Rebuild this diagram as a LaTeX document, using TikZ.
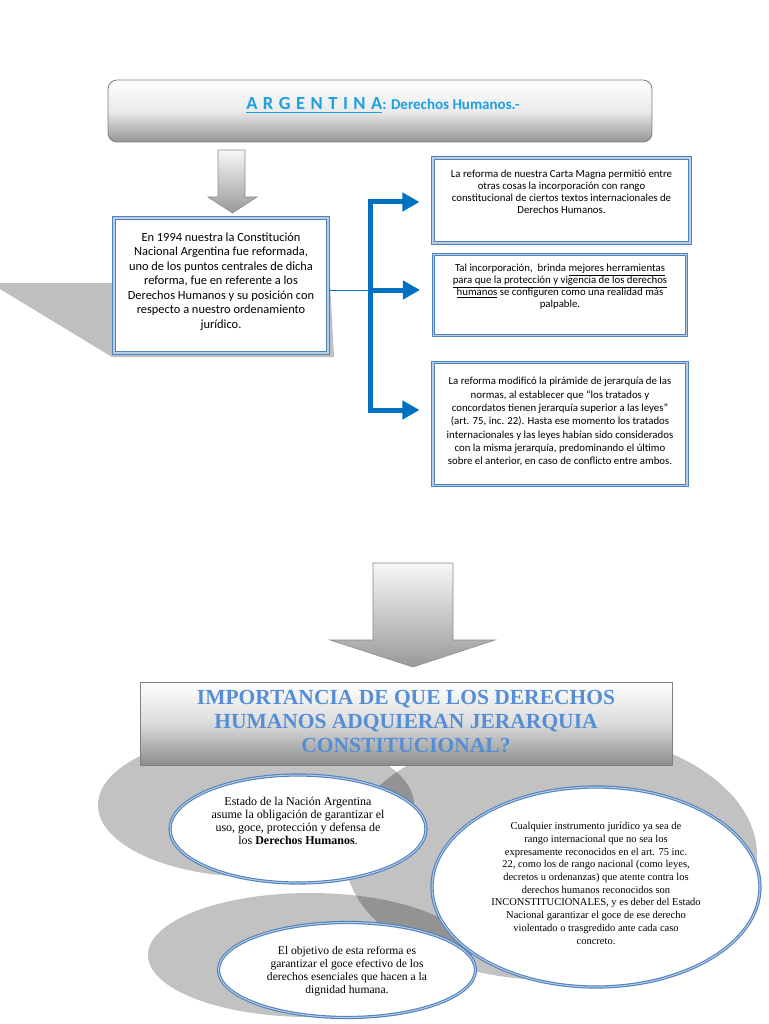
\documentclass[tikz,border=0pt]{standalone}
\usepackage{fontspec}
\setmainfont{Carlito}
\newfontfamily\camfont{Liberation Serif}
\usepackage{tikz}
\usetikzlibrary{arrows.meta, positioning, shapes.geometric}
\definecolor{boxblue}{HTML}{4F81BD}
\definecolor{boxlight}{HTML}{B9CDE5}
\definecolor{arrowblue}{HTML}{0070C0}
\definecolor{titlecyan}{HTML}{1BA1E2}
\definecolor{titleblue}{HTML}{558ED5}
\newcommand{\thickul}[1]{\vtop{\hbox{#1}\kern1.6pt\hrule height 1.7pt}}

\begin{document}
\begin{tikzpicture}[x=1pt, y=-1pt, thick]

	\tikzset{
		headbox/.style={
				draw=black!50, line width=0.8pt, top color=white, bottom color=black!42, middle color=black!8, inner sep=0pt
			},
		infobox/.style={
				draw=boxblue, line width=1.1pt, double=boxlight, double distance=1.1pt, fill=white, inner sep=0pt
			},
		infoell/.style={
				ellipse, draw=boxblue, line width=1.1pt, double=boxlight, double distance=1pt, fill=white, inner sep=0pt
			},
		boxtext/.style={
				anchor=north, align=center, inner sep=0pt
			},
		blockarrow/.style={
				draw=black!45, line width=0.6pt, top color=black!3, bottom color=black!40
			},
		shade/.style={
				fill=black, fill opacity=0.24, draw=none
			},
		brline/.style={
				draw=arrowblue, line width=5pt, line join=miter
			},
	}

	\fill[white] (0,0) rectangle (768,1024);
	\useasboundingbox (0,0) rectangle (768,1024);

	\fill[black!25] (0,283) -- (330,283) -- (334,357) -- (112,357) -- (0,289) -- cycle;

	\node[headbox, rounded corners=9pt, minimum width=544pt, minimum height=62pt](head1) at (380,111){};
	\node[anchor=base, inner sep=0pt, text=titlecyan, font=\bfseries](ht1) at (383,110){\fontsize{18.5}{20}\selectfont\thickul{\spaceskip=5.5pt A R G E N T I N A}\fontsize{15}{17}\selectfont: Derechos Humanos.-};

	\draw[blockarrow] (218,150) -- (245,150) -- (245,197) -- (257,197) -- (232.5,213) -- (208,197) -- (218,197) -- cycle;

	\node[infobox, minimum width=214pt, minimum height=135pt](lbox) at (221,285.5){};
	\node[boxtext, font=\fontsize{12.4}{14.5}\selectfont](lt) at (221,232){En 1994 nuestra la Constitución\\
		Nacional Argentina fue reformada,\\
		uno de los puntos centrales de dicha\\
		reforma, fue en referente a los\\
		Derechos Humanos y su posición con\\
		respecto a nuestro ordenamiento\\
		jurídico.};

	\node[infobox, minimum width=257pt, minimum height=85pt](r1) at (561.5,200.5){};
	\node[infobox, minimum width=253pt, minimum height=81pt](r2) at (560,295){};
	\node[infobox, minimum width=254pt, minimum height=123pt](r3) at (560,424){};

	\node[boxtext, font=\fontsize{10.8}{11.8}\selectfont](rt1) at (561.5,170){La reforma de nuestra Carta Magna permitió entre\\
		otras cosas la incorporación con rango\\
		constitucional de ciertos textos internacionales de\\
		Derechos Humanos.};
	\node[boxtext, font=\fontsize{10.8}{11.8}\selectfont](rt2) at (560,264){Tal incorporación,\ \ brinda \underline{mejores herramientas}\\
		\underline{para que la protección y vigencia de los derechos}\\
		\underline{humanos} se configuren como una realidad más\\
		palpable.};
	\node[boxtext, font=\fontsize{10.8}{13.3}\selectfont](rt3) at (560,377){La reforma modificó la pirámide de jerarquía de las\\
		normas, al establecer que “los tratados y\\
		concordatos tienen jerarquía superior a las leyes”\\
		(art. 75, inc. 22). Hasta ese momento los tratados\\
		internacionales y las leyes habían sido considerados\\
		con la misma jerarquía, predominando el último\\
		sobre el anterior, en caso de conflicto entre ambos.};

	\coordinate (brtop) at (370,202);
	\coordinate (brmid) at (370,290);
	\coordinate (brbot) at (370,410);

	\draw[draw=arrowblue, line width=0.8pt] (lbox.east |- brmid) -- (brmid);
	\draw[brline, {Triangle[length=17pt,width=18pt]}-{Triangle[length=17pt,width=18pt]}, shorten <=13pt, shorten >=13pt] (brtop -| r1.west) -| (brmid) |- (brbot -| r3.west);
	\draw[brline, -{Triangle[length=17pt,width=18pt]}, shorten >=13pt] (brmid) -- (brmid -| r2.west);

	\draw[blockarrow] (373,563) -- (453,563) -- (453,640) -- (495,640) -- (413,667) -- (330,640) -- (373,640) -- cycle;

	\fill[shade] (256,805) ellipse (158 and 72);
	\fill[shade] (551,855) ellipse (206 and 125);
	\fill[shade] (310,955) ellipse (162 and 62);

	\node[headbox, top color=white, bottom color=black!45, middle color=black!14, minimum width=532pt, minimum height=83pt](head2) at (406,723.5){};
	\node[align=center, inner sep=0pt, text=titleblue, font=\camfont\bfseries\fontsize{21.5}{24}\selectfont](ht2) at (406,722){IMPORTANCIA DE QUE LOS DERECHOS\\
		HUMANOS ADQUIERAN JERARQUIA\\
		CONSTITUCIONAL?};

	\node[infoell, minimum width=256pt, minimum height=108pt](e1) at (298,829){};
	\node[infoell, minimum width=328pt, minimum height=200pt](e2) at (596,887){};
	\node[infoell, minimum width=257pt, minimum height=95pt](e3) at (347,970){};

	\node[boxtext, font=\camfont\fontsize{12}{13}\selectfont](et1) at (298,797){Estado de la Nación Argentina\\
		asume la obligación de garantizar el\\
		uso, goce, protección y defensa de\\
		los \textbf{Derechos Humanos}.};
	\node[boxtext, font=\camfont\fontsize{10.5}{12.7}\selectfont](et2) at (596,822){Cualquier instrumento jurídico ya sea de\\
		rango internacional que no sea los\\
		expresamente reconocidos en el art. 75 inc.\\
		22, como los de rango nacional (como leyes,\\
		decretos u ordenanzas) que atente contra los\\
		derechos humanos reconocidos son\\
		INCONSTITUCIONALES, y es deber del Estado\\
		Nacional garantizar el goce de ese derecho\\
		violentado o trasgredido ante cada caso\\
		concreto.};
	\node[boxtext, font=\camfont\fontsize{11.6}{13}\selectfont](et3) at (347,946){El objetivo de esta reforma es\\
		garantizar el goce efectivo de los\\
		derechos esenciales que hacen a la\\
		dignidad humana.};

\end{tikzpicture}
\end{document}
